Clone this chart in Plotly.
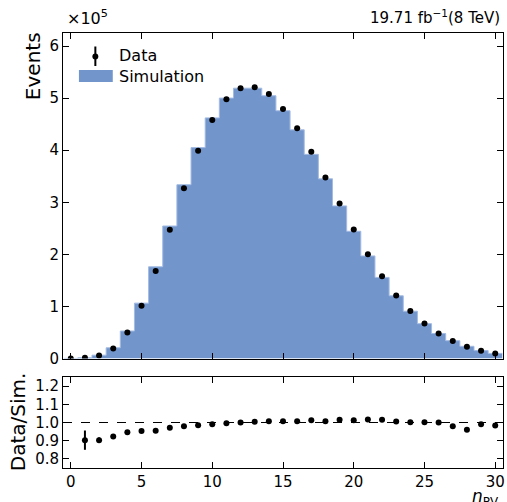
import plotly.graph_objects as go

# Number of primary vertices (bin centres)
n_pv = list(range(0, 31))

# Events in units of 1e5
data_1e5 = [0.002, 0.013, 0.058, 0.19, 0.50, 1.013, 1.68, 2.47, 3.27, 3.99, 4.58,
            4.98, 5.19, 5.21, 5.08, 4.79, 4.42, 3.97, 3.475, 2.975, 2.475,
            2.00, 1.58, 1.21, 0.91, 0.67, 0.48, 0.335, 0.225, 0.15, 0.096]
sim_1e5 = [0.002, 0.0144, 0.064, 0.206, 0.528, 1.063, 1.761, 2.544, 3.337, 4.05, 4.62,
           5.00, 5.19, 5.19, 5.045, 4.757, 4.39, 3.92, 3.45, 2.93, 2.443,
           1.969, 1.557, 1.204, 0.908, 0.669, 0.48, 0.342, 0.234, 0.152, 0.098]

# Ratio Data/Sim with uncertainties (n=0 not shown)
ratio = [None, 0.903, 0.903, 0.923, 0.947, 0.953, 0.954, 0.971, 0.980, 0.985, 0.991,
         0.996, 1.000, 1.004, 1.007, 1.007, 1.007, 1.013, 1.007, 1.015, 1.013,
         1.016, 1.015, 1.005, 1.002, 1.002, 1.000, 0.980, 0.960, 0.990, 0.984]
ratio_err = [None, 0.053, 0.015, 0.005, 0.004, 0.003, 0.003, 0.003, 0.003, 0.003, 0.003,
             0.003, 0.003, 0.003, 0.003, 0.003, 0.003, 0.003, 0.003, 0.003, 0.003,
             0.004, 0.004, 0.004, 0.005, 0.005, 0.006, 0.007, 0.008, 0.010, 0.012]

x_ticks = [0, 5, 10, 15, 20, 25, 30]
y_ticks = [0, 1, 2, 3, 4, 5, 6]
r_ticks = [0.8, 0.9, 1.0, 1.1, 1.2]

FILL = "#7295cc"
EDGE = "#a3bbe2"
FONT = "DejaVu Sans"

# step histogram edges
edges = [c - 0.5 for c in n_pv] + [n_pv[-1] + 0.5]
step_y = sim_1e5 + [sim_1e5[-1]]

fig = go.Figure()
fig.add_trace(go.Scatter(x=edges, y=step_y, mode="lines", line=dict(shape="hv", color=EDGE, width=1),
                         fill="tozeroy", fillcolor=FILL, xaxis="x", yaxis="y", showlegend=False,
                         hoverinfo="skip"))
fig.add_trace(go.Scatter(x=n_pv, y=data_1e5, mode="markers", marker=dict(color="black", size=6),
                         xaxis="x", yaxis="y", showlegend=False))
fig.add_trace(go.Scatter(x=n_pv, y=ratio, mode="markers", marker=dict(color="black", size=6),
                         error_y=dict(type="data", array=ratio_err, color="black", thickness=2, width=0),
                         xaxis="x2", yaxis="y2", showlegend=False))

L, R, T, B = 63, 2, 33, 34
W, H = 507, 502
ph = H - T - B
pw = W - L - R


def py(pix):
    return (H - B - pix) / ph


def px(pix):
    return (pix - L) / pw


axis_common = dict(showline=True, linecolor="black", linewidth=1, mirror="ticks", ticks="inside",
                   ticklen=6, tickcolor="black", tickwidth=1, showgrid=False, zeroline=False,
                   tickfont=dict(family=FONT, size=15, color="black"))

fig.update_layout(
    width=W, height=H, margin=dict(l=L, r=R, t=T, b=B),
    plot_bgcolor="white", paper_bgcolor="white",
    xaxis=dict(domain=[0, 1], anchor="y", range=[-0.55, 30.55], tickvals=x_ticks,
               showticklabels=False, matches="x2", **axis_common),
    yaxis=dict(domain=[py(358.5), 1], anchor="x", range=[0, 6.25], tickvals=y_ticks, **axis_common),
    xaxis2=dict(domain=[0, 1], anchor="y2", range=[-0.55, 30.55], tickvals=x_ticks, **axis_common),
    yaxis2=dict(domain=[0, py(377)], anchor="x2", range=[0.75, 1.25], tickvals=r_ticks,
                tickformat=".1f", **axis_common),
    showlegend=False,
)

# reference line at 1
fig.add_shape(type="line", xref="x2 domain", yref="y2", x0=0, x1=1, y0=1, y1=1,
              line=dict(color="black", width=1, dash="dash"), layer="below")

# custom legend
fig.add_shape(type="rect", xref="paper", yref="paper", x0=px(79), x1=px(113), y0=py(82), y1=py(70),
              fillcolor=FILL, line=dict(width=0))
fig.add_shape(type="line", xref="paper", yref="paper", x0=px(95.5), x1=px(95.5), y0=py(66), y1=py(46.5),
              line=dict(color="black", width=2))
fig.add_shape(type="circle", xref="paper", yref="paper", x0=px(92.5), x1=px(98.5), y0=py(59.5), y1=py(53.5),
              fillcolor="black", line=dict(color="black", width=0))
for label, ypix in [("Data", 56), ("Simulation", 76)]:
    fig.add_annotation(text=label, xref="paper", yref="paper", x=px(117), y=py(ypix),
                       xanchor="left", yanchor="middle", showarrow=False,
                       font=dict(family=FONT, size=16, color="black"))

# texts
fig.add_annotation(text="19.71 fb<sup>−1</sup>(8 TeV)", xref="paper", yref="paper", x=px(504), y=py(29),
                   xanchor="right", yanchor="bottom", showarrow=False,
                   font=dict(family=FONT, size=15, color="black"))
fig.add_annotation(text="×10<sup>5</sup>", xref="paper", yref="paper", x=px(65), y=py(30),
                   xanchor="left", yanchor="bottom", showarrow=False,
                   font=dict(family=FONT, size=16, color="black"))
fig.add_annotation(text="Events", xref="paper", yref="paper", x=px(33), y=py(66),
                   xanchor="center", yanchor="middle", textangle=-90, showarrow=False,
                   font=dict(family=FONT, size=20, color="black"))
fig.add_annotation(text="Data/Sim.", xref="paper", yref="paper", x=px(18), y=py(422),
                   xanchor="center", yanchor="middle", textangle=-90, showarrow=False,
                   font=dict(family=FONT, size=20, color="black"))
fig.add_annotation(text="<i>n</i><sub>PV</sub>", xref="paper", yref="paper", x=px(503), y=py(484),
                   xanchor="right", yanchor="top", showarrow=False,
                   font=dict(family=FONT, size=17, color="black"))

fig.write_html("out.html", config={"displayModeBar": False},
               post_script="document.body.style.margin='0';document.body.style.overflow='hidden';")
